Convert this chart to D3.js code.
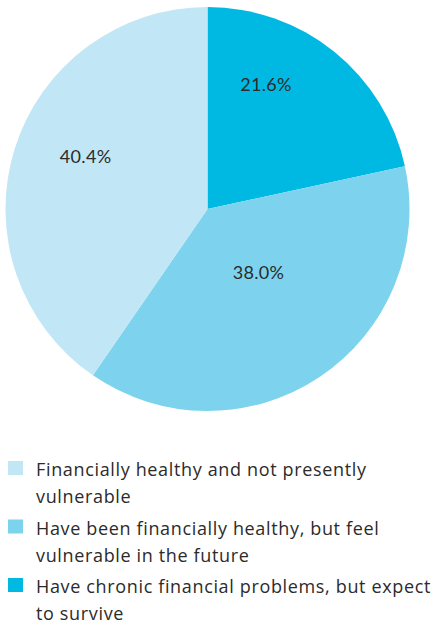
<!DOCTYPE html>
<html>
<head>
<meta charset="utf-8">
<script src="https://cdn.jsdelivr.net/npm/d3@7"></script>
<style>
  html, body { margin: 0; padding: 0; background: #fff; }
  svg { display: block; }
  text { font-family: Lato, "Open Sans", sans-serif; fill: #2b2b2b; }
  .legend text { font-family: "Open Sans", Lato, sans-serif; letter-spacing: 0.65px; }
  .value { letter-spacing: 0.3px; }
</style>
</head>
<body>
<svg id="chart" width="432" height="625"></svg>
<script>
// Survey shares (percent)
const categories = [
  "Have chronic financial problems, but expect to survive",
  "Have been financially healthy, but feel vulnerable in the future",
  "Financially healthy and not presently vulnerable"
];
const values = [21.6, 38.0, 40.4];
const colors = ["#00b9e3", "#7dd3ee", "#c1e6f5"];

// Legend lists the slices in reverse order, each label wrapped on two lines
const legendOrder = [2, 1, 0];
const legendLines = [
  ["Have chronic financial problems, but expect", "to survive"],
  ["Have been financially healthy, but feel", "vulnerable in the future"],
  ["Financially healthy and not presently", "vulnerable"]
];

const svg = d3.select("#chart");
const cx = 207.5, cy = 209, radius = 202;

const pie = d3.pie().sort(null).value(d => d);
const arcs = pie(values);
const arc = d3.arc().innerRadius(0).outerRadius(radius);

const g = svg.append("g").attr("transform", `translate(${cx},${cy})`);

g.selectAll("path.slice")
  .data(arcs)
  .join("path")
  .attr("class", "slice")
  .attr("d", arc)
  .attr("fill", (d, i) => colors[i]);

// Value labels: placed along a shifted angle / radius within each slice
const labelPlacement = [
  { da: -0.24, r: 138 },
  { da: -0.09, r: 81 },
  { da: 0.11, r: 133 }
];
g.selectAll("text.value")
  .data(arcs)
  .join("text")
  .attr("class", "value")
  .attr("text-anchor", "middle")
  .attr("dominant-baseline", "central")
  .attr("font-size", 18)
  .attr("x", (d, i) => {
    const a = (d.startAngle + d.endAngle) / 2 + labelPlacement[i].da;
    return Math.sin(a) * labelPlacement[i].r;
  })
  .attr("y", (d, i) => {
    const a = (d.startAngle + d.endAngle) / 2 + labelPlacement[i].da;
    return -Math.cos(a) * labelPlacement[i].r;
  })
  .text(d => d.data.toFixed(1) + "%");

// Legend
const legend = svg.append("g").attr("class", "legend").attr("transform", "translate(8,468)");
const item = legend.selectAll("g.item")
  .data(legendOrder)
  .join("g")
  .attr("class", "item")
  .attr("transform", (d, k) => `translate(0,${k * 58.5})`);

item.append("rect")
  .attr("x", 0).attr("y", -7)
  .attr("width", 15).attr("height", 14)
  .attr("fill", d => colors[d]);

item.append("text")
  .attr("font-size", 18)
  .selectAll("tspan")
  .data(d => legendLines[d])
  .join("tspan")
  .attr("x", 28)
  .attr("y", (t, j) => 8 + j * 27)
  .text(t => t);
</script>
</body>
</html>
